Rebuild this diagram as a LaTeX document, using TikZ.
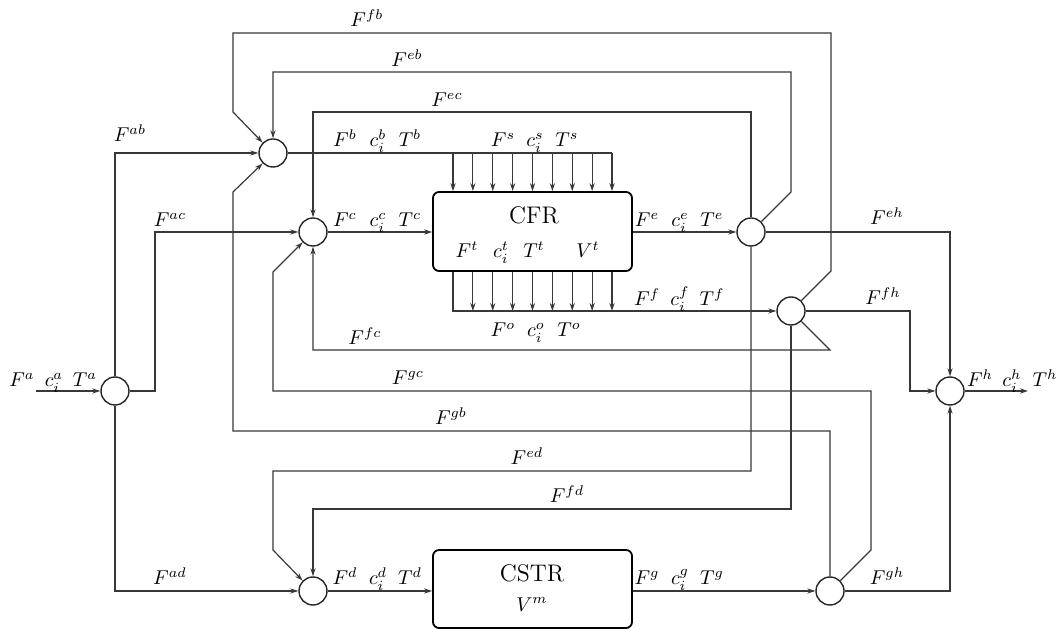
\documentclass[tikz,border=0pt]{standalone}
\usetikzlibrary{arrows.meta}
\begin{document}
\begin{tikzpicture}[x=0.5pt,y=-0.5pt,
  flow/.style={line width=0.6pt, draw=black!78},
  arr/.style={flow, -{Stealth[length=4pt,width=2.6pt]}},
  junc/.style={circle, draw=black!85, line width=0.7pt, minimum size=14pt, inner sep=0pt},
  unit/.style={draw, rounded corners=3pt, line width=0.9pt, minimum width=99.5pt, minimum height=39.5pt, inner sep=0pt},
  lab/.style={anchor=base, inner sep=0pt},
  title/.style={font=\large, inner sep=0pt}]
\useasboundingbox (0,0) rectangle (1061,630);

% junctions and units
\node[junc] (a) at (115,391) {};
\node[junc] (b) at (273,153) {};
\node[junc] (c) at (313,232) {};
\node[junc] (d) at (313,591) {};
\node[junc] (e) at (751,232) {};
\node[junc] (f) at (791,311) {};
\node[junc] (g) at (830,591) {};
\node[junc] (h) at (950,391) {};
\node[unit] (cfr) at (532.5,231.5) {};
\node[unit, minimum height=39pt] (cstr) at (532.5,589) {};

\coordinate (in) at (36,391);
\coordinate (out) at (1028,391);

% feed splits
\draw[arr] (in) -- (a.west);
\draw[arr] (a.north) |- (b.west);
\draw[arr] (a.east) -- (155,391) |- (c.west);
\draw[arr] (a.south) |- (d.west);

% main line
\draw[arr] (c.east) -- (c.east -| cfr.west);
\draw[arr] (cfr.east |- e.west) -- (e.west);
\draw[arr] (d.east) -- (d.east -| cstr.west);
\draw[arr] (cstr.east |- g.west) -- (g.west);
\draw[arr] (h.east) -- (out);

% side feed into CFR
\coordinate (sEnd) at (612,153);
\draw[flow] (b.east) -- (sEnd);
\foreach \i in {0,...,8}{
  \coordinate (s\i) at ({453+19.875*\i},153);
  \draw[arr] (s\i) -- (s\i |- cfr.north);
}
% side outlet from CFR
\coordinate (o0) at (453,311);
\draw[arr] (o0 |- cfr.south) -- (o0) -- (f.west);
\foreach \i in {1,...,8}{
  \coordinate (o\i) at ({453+19.875*\i},311);
  \draw[arr] (o\i |- cfr.south) -- (o\i);
}

% recycle and bypass streams
\draw[arr] (f.north east) -- (831,271) -- (831,33) -- (233,33) -- (233,112) -- (b.north west);
\draw[arr] (e.north east) -- (791,192) -- (791,72) -| (b.north);
\draw[arr] (e.north) -- (751,112) -| (c.north);
\draw[arr] (e.east) -| (h.north);
\draw[arr] (e.south) -- (751,471) -- (273,471) -- (273,550) -- (d.north west);
\draw[arr] (f.south) -- (791,509) -| (d.north);
\draw[arr] (f.east) -- (910,311) |- (h.west);
\draw[arr] (f.south east) -- (830,350) -| (c.south);
\draw[arr] (g.east) -| (h.south);
\draw[arr] (g.north) -- (830,431) -- (233,431) -- (233,192) -- (b.south west);
\draw[arr] (g.north east) -- (871,550) -- (871,391) -- (273,391) -- (273,272) -- (c.south west);

% unit texts
\node[title] (tcfr) at (534,215) {CFR};
\node[lab] (Ft) at (467,258) {$F^{t}$};
\node[lab] (ct) at (501,258) {$c_i^{t}$};
\node[lab] (Tt) at (534,258) {$T^{t}$};
\node[lab] (Vt) at (588,258) {$V^{t}$};
\node[title] (tcstr) at (532,573) {CSTR};
\node[lab] (Vm) at (532,611) {$V^{m}$};

% stream labels
\node[lab] (Fa) at (22,387) {$F^{a}$};
\node[lab] (ca) at (54,387) {$c_i^{a}$};
\node[lab] (Ta) at (85,387) {$T^{a}$};
\node[lab] (Fab) at (130,142) {$F^{ab}$};
\node[lab] (Fac) at (170,227) {$F^{ac}$};
\node[lab] (Fad) at (170,585) {$F^{ad}$};
\node[lab] (Ffb) at (367,27) {$F^{fb}$};
\node[lab] (Feb) at (407,67) {$F^{eb}$};
\node[lab] (Fec) at (447,107) {$F^{ec}$};
\node[lab] (Fb) at (345,147) {$F^{b}$};
\node[lab] (cb) at (378,147) {$c_i^{b}$};
\node[lab] (Tb) at (410,147) {$T^{b}$};
\node[lab] (Fs) at (503,147) {$F^{s}$};
\node[lab] (cs) at (535,147) {$c_i^{s}$};
\node[lab] (Ts) at (567,147) {$T^{s}$};
\node[lab] (Fc) at (345,227) {$F^{c}$};
\node[lab] (cc) at (378,227) {$c_i^{c}$};
\node[lab] (Tc) at (410,227) {$T^{c}$};
\node[lab] (Fe) at (647,227) {$F^{e}$};
\node[lab] (ce) at (680,227) {$c_i^{e}$};
\node[lab] (Te) at (712,227) {$T^{e}$};
\node[lab] (Ff) at (647,306) {$F^{f}$};
\node[lab] (cf) at (680,306) {$c_i^{f}$};
\node[lab] (Tf) at (712,306) {$T^{f}$};
\node[lab] (Fo) at (503,337) {$F^{o}$};
\node[lab] (co) at (536,337) {$c_i^{o}$};
\node[lab] (To) at (569,337) {$T^{o}$};
\node[lab] (Ffc) at (365,345) {$F^{fc}$};
\node[lab] (Fgc) at (408,385) {$F^{gc}$};
\node[lab] (Fgb) at (451,425) {$F^{gb}$};
\node[lab] (Fed) at (527,465) {$F^{ed}$};
\node[lab] (Ffd) at (567,503) {$F^{fd}$};
\node[lab] (Fd) at (345,585) {$F^{d}$};
\node[lab] (cd) at (378,585) {$c_i^{d}$};
\node[lab] (Td) at (410,585) {$T^{d}$};
\node[lab] (Fg) at (647,585) {$F^{g}$};
\node[lab] (cg) at (680,585) {$c_i^{g}$};
\node[lab] (Tg) at (712,585) {$T^{g}$};
\node[lab] (Feh) at (887,225) {$F^{eh}$};
\node[lab] (Ffh) at (883,305) {$F^{fh}$};
\node[lab] (Fgh) at (887,585) {$F^{gh}$};
\node[lab] (Fh) at (980,387) {$F^{h}$};
\node[lab] (ch) at (1012,387) {$c_i^{h}$};
\node[lab] (Th) at (1045,387) {$T^{h}$};
\end{tikzpicture}
\end{document}
